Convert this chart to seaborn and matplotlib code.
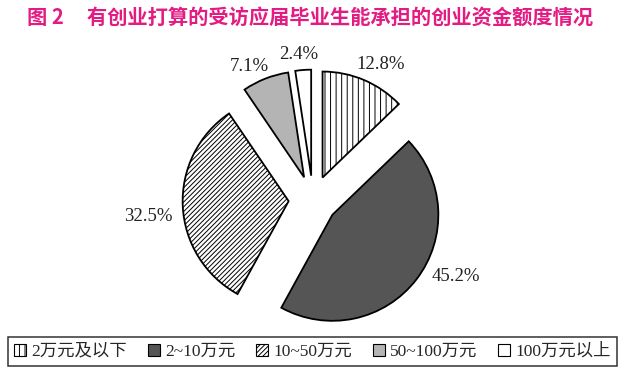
import numpy as np
import seaborn as sns
import matplotlib
matplotlib.use("Agg")
import matplotlib.pyplot as plt
from matplotlib.patches import Patch
from matplotlib.font_manager import FontProperties

# data
CATEGORIES = ["2万元及以下", "2~10万元", "10~50万元", "50~100万元", "100万元以上"]
SHARES = [12.8, 45.2, 32.5, 7.1, 2.4]
TITLE = "图 2     有创业打算的受访应届毕业生能承担的创业资金额度情况"

# styles
COLORS = ["white", "#555555", "white", "#b4b4b4", "white"]
HATCHES = ["|||", None, "///////", None, None]
LABEL_DIST = [1.2, 1.3, 1.33, 1.17, 1.15]   # in radii, from wedge centre
LABEL_TURN = [-4, 11, 3.5, 5, 1.5]          # degrees off the wedge bisector

sns.set_style("white")
plt.rcParams["font.family"] = ["Liberation Serif", "Noto Sans CJK SC", "DejaVu Sans"]
plt.rcParams["hatch.linewidth"] = 0.7

fig = plt.figure(figsize=(6.26, 3.72), dpi=100)
# pie radius 1 == 106 px, centre at (313, 200) px
ax = fig.add_axes([0, 42 / 372, 1, 290 / 372])
ax.set_xlim(-313 / 106, 313 / 106)
ax.set_ylim(-130 / 106, 160 / 106)

wedges, _ = ax.pie(SHARES, colors=COLORS, startangle=90, counterclock=False,
                   explode=[0.23] * len(SHARES), radius=1, frame=True,
                   wedgeprops=dict(edgecolor="black", linewidth=1.3))
ax.axis("off")
for w, h in zip(wedges, HATCHES):
    if h:
        w.set_hatch(h)

# percentage labels placed outside each wedge
for w, v, d, t in zip(wedges, SHARES, LABEL_DIST, LABEL_TURN):
    mid = np.deg2rad((w.theta1 + w.theta2) / 2 + t)
    cx, cy = w.center
    ax.text(cx + d * w.r * np.cos(mid), cy + d * w.r * np.sin(mid), f"{v}%",
            ha="center", va="center", fontsize=13.5, color="#222222")

fig.text(0.043, 0.953, TITLE, color="#e31c84", fontsize=14.6, fontweight="bold",
         family=["Noto Sans CJK SC", "DejaVu Sans"], va="center", ha="left")

handles = [Patch(facecolor=c, edgecolor="black", hatch=h, linewidth=0.8)
           for c, h in zip(COLORS, HATCHES)]
leg = fig.legend(handles, CATEGORIES, ncol=5, loc="lower left",
                 bbox_to_anchor=(8 / 626, 6 / 372, 609 / 626, 32 / 372), mode="expand",
                 frameon=True, fancybox=False, edgecolor="black", handlelength=0.7,
                 handleheight=0.7, handletextpad=0.3, borderaxespad=0, borderpad=0.35,
                 prop=FontProperties(family=["Liberation Serif", "Noto Sans CJK SC"], size=12.5))
leg.get_frame().set_linewidth(1.1)

fig.savefig("out.png", dpi=100)
